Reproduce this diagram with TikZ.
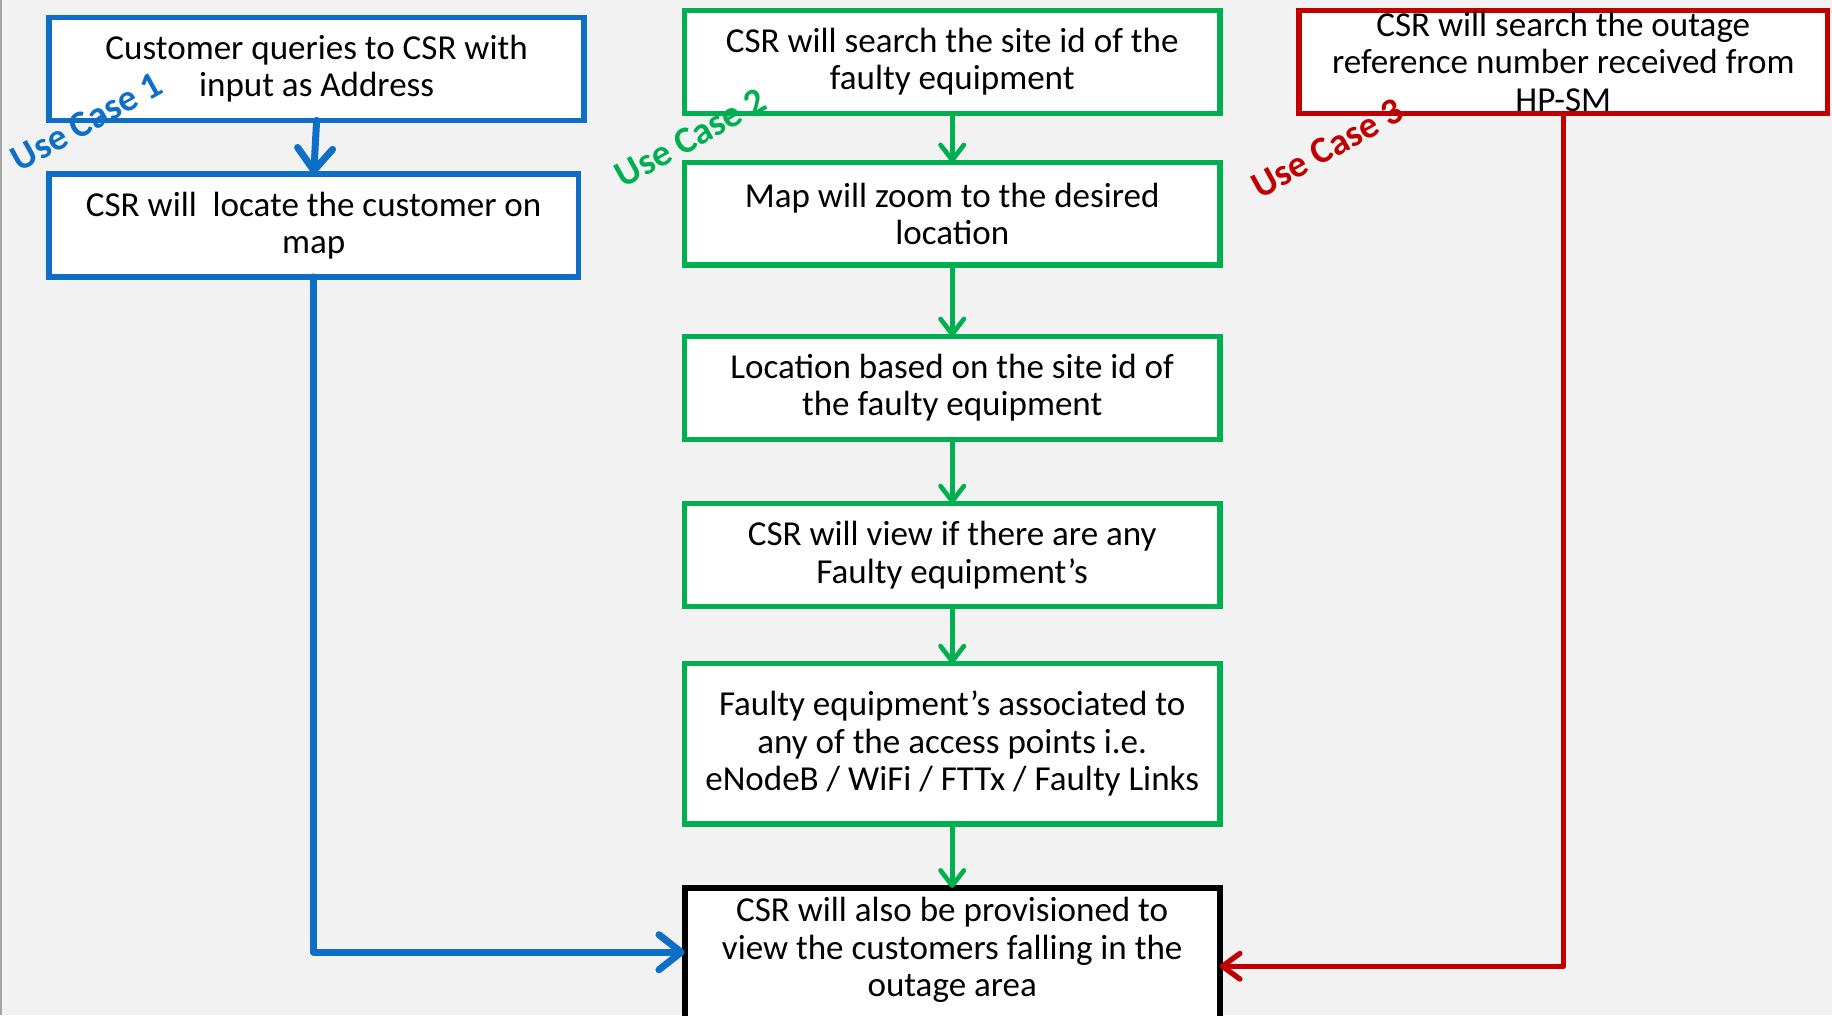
\documentclass[tikz,border=0pt]{standalone}
\usepackage{fontspec}
\setmainfont{Carlito}
\newfontfamily\labelfont{Carlito}
\usetikzlibrary{arrows.meta,calc}
\definecolor{bgc}{HTML}{F2F2F2}
\definecolor{ucblue}{HTML}{0F6FC6}
\definecolor{ucgreen}{HTML}{00B050}
\definecolor{ucred}{HTML}{C00000}
\tikzset{
  box/.style={draw, fill=white, line width=4.8pt, inner sep=0pt, outer sep=0pt,
    align=center, font=\fontsize{30}{32}\selectfont},
  bluebox/.style={box, draw=ucblue},
  greenbox/.style={box, draw=ucgreen, minimum width=458pt},
  redbox/.style={box, draw=ucred},
  blackbox/.style={box, draw=black, line width=5pt},
  txt/.style={align=center, inner sep=0pt, font=\fontsize{30}{32}\selectfont},
  bluearrow/.style={draw=ucblue, line width=6pt, line join=round, line cap=round,
    -{Straight Barb[length=19pt,width=30pt,round]}},
  greenarrow/.style={draw=ucgreen, line width=4pt, line cap=round,
    -{Straight Barb[length=13pt,width=20pt,round]}},
  redarrow/.style={draw=ucred, line width=4.5pt, line join=round, line cap=round,
    -{Straight Barb[length=15pt,width=22pt,round]}},
  uclabel/.style={font=\labelfont\bfseries\fontsize{32}{36}\selectfont, rotate=29, inner sep=0pt}
}
\begin{document}
\begin{tikzpicture}[x=1pt,y=-1pt]
\useasboundingbox (0,0) rectangle (1568,869);
\clip (0,0) rectangle (1568,869);
\fill[bgc] (0,0) rectangle (1568,869);
\draw[gray!70, line width=2pt] (1,0) -- (1,869);

% Use case 1
\node[bluebox, minimum width=458pt, minimum height=88pt] (b1) at (271,59)
  {Customer queries to CSR with\\input as Address};
\node[bluebox, minimum width=453pt, minimum height=88pt] (b2) at (268.5,193)
  {CSR will\ \ locate the customer on\\map};

% Use case 2
\node[greenbox, minimum height=88pt] (g1) at (815,53)
  {CSR will search the site id of the\\faulty equipment};
\node[greenbox, minimum height=88pt] (g2) at (815,183)
  {Map will zoom to the desired\\location};
\node[greenbox, minimum height=88pt] (g3) at (815,332)
  {Location based on the site id of\\the faulty equipment};
\node[greenbox, minimum height=88pt] (g4) at (815,475)
  {CSR will view if there are any\\Faulty equipment’s};
\node[greenbox, minimum height=137pt] (g5) at (815,636.5)
  {Faulty equipment’s associated to\\any of the access points i.e.\\eNodeB / WiFi / FTTx / Faulty Links};

% Use case 3
\node[redbox, minimum width=452pt, minimum height=88pt] (r1) at (1338,53)
  {CSR will search the outage\\reference number received from\\HP-SM};

% Final box
\node[blackbox, minimum width=458pt, minimum height=170pt, anchor=north] (bk) at (815,760) {};
\node[txt] (bkt) at (815,813)
  {CSR will also be provisioned to\\view the customers falling in the\\outage area};

\coordinate (bkin) at ([yshift=-55pt]bk.north west);
\coordinate (bkinr) at ([yshift=-67pt]bk.north east);

% connectors
\draw[bluearrow] (b1.south) -- (b2.north);
\draw[bluearrow] (b2.south) |- (bkin);
\draw[greenarrow] (g1.south) -- (g2.north);
\draw[greenarrow] (g2.south) -- (g3.north);
\draw[greenarrow] (g3.south) -- (g4.north);
\draw[greenarrow] (g4.south) -- (g5.north);
\draw[greenarrow] (g5.south) -- (bk.north);
\draw[redarrow] (r1.south) |- (bkinr);

% labels
\node[uclabel, text=ucblue] (l1) at (74,104) {Use Case 1};
\node[uclabel, text=ucgreen] (l2) at (591,118) {Use Case 2};
\node[uclabel, text=ucred] (l3) at (1136,127) {Use Case 3};
\end{tikzpicture}
\end{document}
